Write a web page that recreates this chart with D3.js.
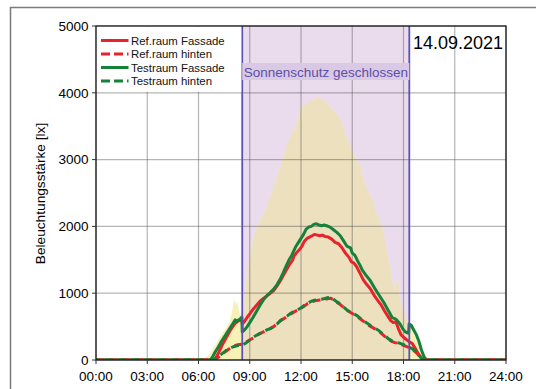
<!DOCTYPE html>
<html><head><meta charset="utf-8">
<script src="https://cdn.jsdelivr.net/npm/d3@7"></script>
<style>body{margin:0;background:#fff}svg{display:block}text{font-family:Arial,"Liberation Sans",sans-serif}</style>
</head><body><svg id="c" width="536" height="389"></svg>
<script>
// ---- data ----
const xTickLabels = ["00:00","03:00","06:00","09:00","12:00","15:00","18:00","21:00","24:00"];
const yTicks = [0,1000,2000,3000,4000,5000];
const seriesNames = ["Ref.raum Fassade","Ref.raum hinten","Testraum Fassade","Testraum hinten"];
const shading = [8.56, 18.34];
const shadingLabel = "Sonnenschutz geschlossen";
const dateLabel = "14.09.2021";
const yTitle = "Beleuchtungsstärke [lx]";

const outdoor = [[0,0],[6.2,0],[6.4,30],[6.6,80],[6.8,150],[7.0,230],[7.2,320],[7.4,400],[7.6,480],[7.8,560],[7.95,700],[8.05,860],[8.15,900],[8.2,820],[8.28,880],[8.35,760],[8.45,660],[8.56,700],[8.7,950],[8.85,1250],[9.0,1550],[9.15,1750],[9.3,1900],[9.5,2030],[9.7,2150],[9.9,2220],[10.1,2380],[10.3,2520],[10.5,2665],[10.7,2820],[10.9,2980],[11.0,3050],[11.15,3200],[11.3,3300],[11.45,3350],[11.55,3550],[11.62,3380],[11.75,3550],[11.9,3720],[12.0,3780],[12.04,3550],[12.1,3800],[12.3,3840],[12.5,3870],[12.7,3890],[12.9,3910],[13.0,3940],[13.1,3920],[13.3,3890],[13.5,3850],[13.7,3800],[13.9,3740],[14.1,3680],[14.3,3600],[14.5,3450],[14.7,3300],[14.9,3200],[14.97,3000],[15.05,3150],[15.2,3000],[15.45,2920],[15.6,2750],[15.8,2600],[16.0,2500],[16.2,2400],[16.4,2200],[16.6,2080],[16.8,1946],[17.0,1680],[17.2,1390],[17.4,1100],[17.5,1020],[17.6,1200],[17.7,1150],[17.8,900],[18.0,700],[18.2,600],[18.34,560],[18.5,470],[18.7,340],[18.9,200],[19.05,100],[19.2,30],[19.35,0],[24,0]];

const refFassade = [[0,0],[6.95,0],[7.1,70],[7.25,150],[7.4,230],[7.55,300],[7.7,370],[7.85,440],[8.0,500],[8.15,550],[8.3,580],[8.45,600],[8.54,590],[8.56,540],[8.7,580],[8.85,640],[9.0,690],[9.2,760],[9.4,820],[9.6,880],[9.8,920],[10.0,960],[10.2,1000],[10.4,1040],[10.6,1110],[10.8,1190],[10.95,1260],[11.1,1330],[11.3,1420],[11.5,1490],[11.6,1560],[11.75,1610],[11.9,1650],[12.05,1700],[12.2,1780],[12.35,1820],[12.5,1840],[12.65,1860],[12.8,1880],[12.95,1870],[13.1,1860],[13.25,1870],[13.4,1850],[13.6,1840],[13.8,1810],[14.0,1760],[14.2,1740],[14.4,1680],[14.6,1600],[14.8,1540],[14.95,1470],[15.1,1450],[15.25,1400],[15.45,1300],[15.65,1200],[15.85,1130],[16.05,1070],[16.3,960],[16.5,890],[16.7,820],[16.9,730],[17.1,650],[17.25,590],[17.4,560],[17.55,575],[17.7,470],[17.85,380],[18.0,340],[18.2,300],[18.34,270],[18.5,250],[18.7,170],[18.9,80],[19.1,10],[19.2,0],[24,0]];

const refHinten = [[0,0],[6.95,0],[7.1,30],[7.3,70],[7.5,110],[7.7,150],[7.9,185],[8.1,210],[8.3,230],[8.5,235],[8.56,230],[8.8,270],[9.0,300],[9.2,330],[9.4,360],[9.6,395],[9.8,420],[10.0,445],[10.2,470],[10.4,500],[10.6,545],[10.8,590],[11.0,620],[11.2,655],[11.4,690],[11.6,720],[11.8,745],[12.0,775],[12.2,810],[12.4,845],[12.6,870],[12.8,885],[13.0,895],[13.2,900],[13.4,905],[13.6,920],[13.75,925],[13.9,900],[14.1,860],[14.3,830],[14.5,785],[14.7,740],[14.9,710],[15.1,680],[15.3,650],[15.5,610],[15.7,570],[15.9,530],[16.1,500],[16.3,470],[16.5,440],[16.7,400],[16.9,355],[17.1,310],[17.3,280],[17.5,260],[17.8,240],[18.0,220],[18.3,190],[18.5,160],[18.8,100],[19.0,30],[19.1,0],[24,0]];

const testFassade = [[0,0],[6.7,0],[6.85,60],[7.0,130],[7.15,190],[7.3,260],[7.45,320],[7.6,380],[7.75,440],[7.9,500],[8.05,560],[8.15,600],[8.25,580],[8.35,600],[8.45,620],[8.54,640],[8.56,420],[8.7,450],[8.85,500],[9.0,560],[9.2,640],[9.4,730],[9.6,820],[9.8,900],[10.0,960],[10.2,1010],[10.4,1060],[10.6,1130],[10.8,1220],[10.95,1300],[11.1,1390],[11.3,1500],[11.45,1560],[11.55,1620],[11.7,1700],[11.85,1760],[12.0,1820],[12.15,1880],[12.3,1960],[12.45,1990],[12.6,2000],[12.75,2030],[12.9,2040],[13.05,2020],[13.2,2010],[13.35,2020],[13.5,2010],[13.7,1990],[13.9,1950],[14.1,1910],[14.3,1860],[14.5,1780],[14.7,1700],[14.9,1680],[15.0,1600],[15.15,1570],[15.3,1490],[15.45,1420],[15.6,1340],[15.8,1270],[16.05,1190],[16.3,1080],[16.5,1000],[16.65,940],[16.85,860],[17.0,790],[17.2,700],[17.35,630],[17.5,620],[17.6,600],[17.8,540],[17.95,470],[18.1,420],[18.3,400],[18.33,540],[18.45,520],[18.6,450],[18.75,380],[18.9,280],[19.05,150],[19.2,50],[19.35,0],[24,0]];

const testHinten = [[0,0],[6.85,0],[7.0,25],[7.2,60],[7.4,100],[7.6,140],[7.8,170],[8.0,195],[8.2,210],[8.4,224],[8.56,220],[8.8,260],[9.0,300],[9.2,340],[9.4,370],[9.6,400],[9.8,424],[10.0,450],[10.2,470],[10.4,500],[10.6,540],[10.8,590],[11.0,625],[11.2,660],[11.4,700],[11.6,730],[11.8,750],[12.0,780],[12.2,820],[12.4,850],[12.6,880],[12.8,895],[13.0,905],[13.2,910],[13.4,920],[13.6,935],[13.75,940],[13.9,910],[14.1,870],[14.3,840],[14.5,790],[14.7,745],[14.9,720],[15.1,690],[15.3,660],[15.5,620],[15.7,580],[15.9,545],[16.1,510],[16.3,480],[16.5,450],[16.7,410],[16.9,370],[17.1,320],[17.3,290],[17.5,270],[17.8,250],[18.0,230],[18.3,200],[18.5,170],[18.8,120],[19.0,40],[19.15,0],[24,0]];

// ---- drawing ----
const svg = d3.select("#c");
const L=96, R=506, T=26, B=360;
const x = d3.scaleLinear().domain([0,24]).range([L,R]);
const y = d3.scaleLinear().domain([0,5000]).range([B,T]);
const RED="#e8232b", GREEN="#17803a";

svg.append("rect").attr("x",10.5).attr("y",7.5).attr("width",560).attr("height",420)
  .attr("fill","#fff").attr("stroke","#7a7a7a").attr("stroke-width",1.5);

const defs = svg.append("defs");
defs.append("clipPath").attr("id","plot").append("rect").attr("x",L).attr("y",T).attr("width",R-L).attr("height",B-T);
defs.append("clipPath").attr("id","shade").append("rect")
  .attr("x",x(shading[0])).attr("y",T).attr("width",x(shading[1])-x(shading[0])).attr("height",B-T);

// shading region
svg.append("rect").attr("x",x(shading[0])).attr("y",T).attr("width",x(shading[1])-x(shading[0])).attr("height",B-T)
  .attr("fill","#eadced");

// outdoor area
const area = d3.area().x(d=>x(d[0])).y0(y(0)).y1(d=>y(d[1]));
svg.append("path").datum(outdoor).attr("d",area).attr("fill","#f7f1b6").attr("clip-path","url(#plot)");
svg.append("path").datum(outdoor).attr("d",area).attr("fill","#ede0bf").attr("clip-path","url(#shade)");

// grid
const grid = svg.append("g").attr("stroke","rgba(70,70,70,0.4)").attr("stroke-width",1.2);
xTickLabels.forEach((t,i)=>{ const xv=x(i*3);
  grid.append("line").attr("x1",xv).attr("x2",xv).attr("y1",T).attr("y2",B); });
yTicks.forEach(v=>{ grid.append("line").attr("x1",L).attr("x2",R).attr("y1",y(v)).attr("y2",y(v)); });

// lines
const line = d3.line().x(d=>x(d[0])).y(d=>y(d[1]));
const lg = svg.append("g").attr("clip-path","url(#plot)").attr("fill","none").attr("stroke-linejoin","round");
lg.append("path").datum(refFassade).attr("d",line).attr("stroke",RED).attr("stroke-width",3);
lg.append("path").datum(testFassade).attr("d",line).attr("stroke",GREEN).attr("stroke-width",3);
lg.append("path").datum(refHinten).attr("d",line).attr("stroke",RED).attr("stroke-width",3).attr("stroke-dasharray","8,5");
lg.append("path").datum(testHinten).attr("d",line).attr("stroke",GREEN).attr("stroke-width",3).attr("stroke-dasharray","8,5").attr("stroke-dashoffset",4);

// shading boundaries
shading.forEach(h=>{
  svg.append("line").attr("x1",x(h)).attr("x2",x(h)).attr("y1",T).attr("y2",B)
    .attr("stroke","#5a52b4").attr("stroke-width",1.8);
});

// shading label
svg.append("rect").attr("x",x(shading[0])).attr("y",63).attr("width",x(shading[1])-x(shading[0])).attr("height",17)
  .attr("fill","#d9c9e5");
svg.append("text").attr("x",x(shading[0])+1.5).attr("y",76.5).attr("font-size",13.5).attr("fill","#5d4fa6").text(shadingLabel);

// legend box
svg.append("rect").attr("x",L+0.5).attr("y",T+0.5).attr("width",x(shading[0])-L-1.5).attr("height",y(4000)-T-1.5).attr("fill","#fff");
const legStyles = [{c:RED,d:null},{c:RED,d:"9,4"},{c:GREEN,d:null},{c:GREEN,d:"9,4"}];
const legY = [40.5,54,67.5,81];
seriesNames.forEach((n,i)=>{
  svg.append("line").attr("x1",101).attr("x2",128.5).attr("y1",legY[i]).attr("y2",legY[i])
    .attr("stroke",legStyles[i].c).attr("stroke-width",3).attr("stroke-dasharray",legStyles[i].d);
  svg.append("text").attr("x",131).attr("y",legY[i]+4.2).attr("font-size",11.4).attr("fill","#111").text(n);
});

// date
svg.append("text").attr("x",413).attr("y",48.5).attr("font-size",18).attr("fill","#000").text(dateLabel);

// frame
svg.append("rect").attr("x",L).attr("y",T).attr("width",R-L).attr("height",B-T).attr("fill","none").attr("stroke","#1a1a1a").attr("stroke-width",1.3);

// axes
const ax = svg.append("g");
yTicks.forEach(v=>{
  ax.append("line").attr("x1",L-4).attr("x2",L).attr("y1",y(v)).attr("y2",y(v)).attr("stroke","#333");
  ax.append("text").attr("x",88.5).attr("y",y(v)+4.8).attr("text-anchor","end").attr("font-size",13.5).text(v);
});
xTickLabels.forEach((t,i)=>{
  ax.append("line").attr("x1",x(i*3)).attr("x2",x(i*3)).attr("y1",B).attr("y2",B+4).attr("stroke","#333");
  ax.append("text").attr("x",x(i*3)).attr("y",381).attr("text-anchor","middle").attr("font-size",13.5).text(t);
});
svg.append("text").attr("transform","translate(45,193.5) rotate(-90)").attr("text-anchor","middle")
  .attr("font-size",13.7).text(yTitle);
</script></body></html>
